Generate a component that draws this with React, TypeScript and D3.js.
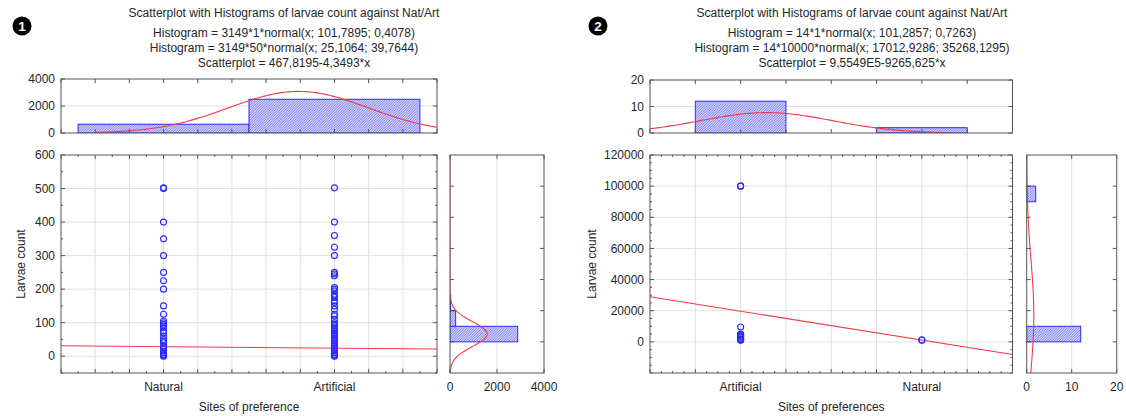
import React from "react";
import * as d3 from "d3";

// ---------------- Panel 1 data ----------------
const titles1 = [
  "Scatterplot with Histograms of larvae count against Nat/Art",
  "Histogram = 3149*1*normal(x; 101,7895; 0,4078)",
  "Histogram = 3149*50*normal(x; 25,1064; 39,7644)",
  "Scatterplot = 467,8195-4,3493*x",
];
const siteLabels1 = ["Natural", "Artificial"];
const siteCodes1 = [101, 102];
const siteCounts1 = [650, 2499];
const naturalLarvae1 = [502, 500, 400, 350, 300, 250, 225, 200, 150, 125, 105, 100, 95, 90, 85, 75, 70, 60, 50, 45, 40, 30, 25, 20, 15, 10, 5, 2, 0];
const artificialLarvae1 = [502, 400, 360, 325, 300, 250, 245, 240, 205, 200, 195, 185, 180, 175, 165, 160, 150, 140, 125, 120, 110, 100, 95, 90, 85, 80, 75, 70, 65, 60, 55, 50, 45, 40, 35, 30, 25, 20, 15, 10, 5, 2, 0];
const larvaeBinStarts1 = [0, 50, 100];
const larvaeBinCounts1 = [2880, 240, 29];
const xFit1 = { n: 3149, w: 1, mean: 101.7895, sd: 0.4078 };
const yFit1 = { n: 3149, w: 50, mean: 25.1064, sd: 39.7644 };
const reg1 = { a: 467.8195, b: -4.3493 };
const topTicks1 = [0, 2000, 4000];
const larvaeTicks1 = [0, 100, 200, 300, 400, 500, 600];
const freqTicks1 = [0, 2000, 4000];

// ---------------- Panel 2 data ----------------
const titles2 = [
  "Scatterplot with Histograms of larvae count against Nat/Art",
  "Histogram = 14*1*normal(x; 101,2857; 0,7263)",
  "Histogram = 14*10000*normal(x; 17012,9286; 35268,1295)",
  "Scatterplot = 9,5549E5-9265,625*x",
];
const siteLabels2 = ["Artificial", "Natural"];
const siteCodes2 = [101, 103];
const siteCounts2 = [12, 2];
const artificialLarvae2 = [100000, 100000, 9500, 5000, 4800, 4200, 3500, 3000, 2000, 1500, 1300, 1100];
const naturalLarvae2 = [1100, 1160];
const larvaeBinStarts2 = [0, 90000];
const larvaeBinCounts2 = [12, 2];
const xFit2 = { n: 14, w: 1, mean: 101.2857, sd: 0.7263 };
const yFit2 = { n: 14, w: 10000, mean: 17012.9286, sd: 35268.1295 };
const reg2 = { a: 955490, b: -9265.625 };
const topTicks2 = [0, 10, 20];
const larvaeTicks2 = [0, 20000, 40000, 60000, 80000, 100000, 120000];
const freqTicks2 = [0, 10, 20];

const FONT = "'Liberation Sans', Arial, Helvetica, sans-serif";
const BLUE = "#2a2aff";
const RED = "#f03a48";
const AXIS = "#555";
const GRID = "#e0e0e0";
const TXT = "#262626";

const pdf = (v: number, m: number, s: number) =>
  Math.exp(-0.5 * ((v - m) / s) ** 2) / (s * Math.sqrt(2 * Math.PI));

function range(a: number, b: number, step: number) {
  const n = Math.round((b - a) / step);
  return d3.range(n + 1).map((i) => a + i * step);
}

const panels = [
  {
    id: "p1",
    bullet: "1",
    bulletX: 22,
    titles: titles1,
    titleX: 284,
    L: { sx0: 61, sx1: 437, sy0: 155, sy1: 373, ty0: 79, ty1: 133, rx0: 450, rx1: 544 },
    yLabelX: 21,
    xLabel: "Sites of preference",
    xDomain: [100.4, 102.6],
    xMajor: range(100.4, 102.6, 0.2),
    xMinor: range(100.4, 102.6, 0.1),
    cats: siteLabels1.map((l, i) => ({ label: l, code: siteCodes1[i], count: siteCounts1[i] })),
    points: [
      ...naturalLarvae1.map((v) => ({ x: siteCodes1[0], y: v })),
      ...artificialLarvae1.map((v) => ({ x: siteCodes1[1], y: v })),
    ],
    topDomain: [0, 4000],
    topTicks: topTicks1,
    xFit: xFit1,
    xFitRange: [100.6, 102.6],
    yDomain: [-50, 600],
    yMajor: larvaeTicks1,
    yMinor: range(-50, 600, 50),
    reg: reg1,
    rhYDomain: [-100, 600],
    rhYTicks: [0, 100, 200, 300, 400, 500],
    rhBins: larvaeBinStarts1.map((s, i) => ({ y0: s, y1: s + yFit1.w, count: larvaeBinCounts1[i] })),
    rhXDomain: [0, 4000],
    rhXTicks: freqTicks1,
    yFit: yFit1,
  },
  {
    id: "p2",
    bullet: "2",
    bulletX: 598,
    titles: titles2,
    titleX: 852,
    L: { sx0: 650, sx1: 1012.5, sy0: 155, sy1: 373, ty0: 80, ty1: 133, rx0: 1026.7, rx1: 1116.7 },
    yLabelX: 592,
    xLabel: "Sites of preferences",
    xDomain: [100, 104],
    xMajor: range(100, 104, 0.5),
    xMinor: range(100, 104, 0.125),
    cats: siteLabels2.map((l, i) => ({ label: l, code: siteCodes2[i], count: siteCounts2[i] })),
    points: [
      ...artificialLarvae2.map((v) => ({ x: siteCodes2[0], y: v })),
      ...naturalLarvae2.map((v) => ({ x: siteCodes2[1], y: v })),
    ],
    topDomain: [0, 20],
    topTicks: topTicks2,
    xFit: xFit2,
    xFitRange: [100, 103.3],
    yDomain: [-20000, 120000],
    yMajor: larvaeTicks2,
    yMinor: range(-20000, 120000, 5000),
    reg: reg2,
    rhYDomain: [-20000, 120000],
    rhYTicks: [0, 20000, 40000, 60000, 80000, 100000],
    rhBins: larvaeBinStarts2.map((s, i) => ({ y0: s, y1: s + yFit2.w, count: larvaeBinCounts2[i] })),
    rhXDomain: [0, 20],
    rhXTicks: freqTicks2,
    yFit: yFit2,
  },
];

function Panel({ p }: { p: any }) {
  const L = p.L;
  const x = d3.scaleLinear().domain(p.xDomain).range([L.sx0, L.sx1]);
  const yT = d3.scaleLinear().domain(p.topDomain).range([L.ty1, L.ty0]);
  const y = d3.scaleLinear().domain(p.yDomain).range([L.sy1, L.sy0]);
  const yR = d3.scaleLinear().domain(p.rhYDomain).range([L.sy1, L.sy0]);
  const xR = d3.scaleLinear().domain(p.rhXDomain).range([L.rx0, L.rx1]);

  const topCurve = d3
    .line<number>()
    .x((v) => x(v))
    .y((v) => yT(p.xFit.n * p.xFit.w * pdf(v, p.xFit.mean, p.xFit.sd)))(
    d3.range(0, 201).map((i) => p.xFitRange[0] + (i * (p.xFitRange[1] - p.xFitRange[0])) / 200)
  );
  const rhCurve = d3
    .line<number>()
    .x((v) => xR(p.yFit.n * p.yFit.w * pdf(v, p.yFit.mean, p.yFit.sd)))
    .y((v) => yR(v))(
    d3.range(0, 301).map((i) => p.rhYDomain[0] + (i * (p.rhYDomain[1] - p.rhYDomain[0])) / 300)
  );
  const regLine = d3
    .line<number>()
    .x((v) => x(v))
    .y((v) => y(p.reg.a + p.reg.b * v))(p.xDomain);

  const clipT = `${p.id}-ct`;
  const clipS = `${p.id}-cs`;
  const clipR = `${p.id}-cr`;
  const inner = (v: number) => v > p.xDomain[0] + 1e-6 && v < p.xDomain[1] - 1e-6;

  const tickLines: JSX.Element[] = [];
  p.xMinor.forEach((v: number, i: number) => {
    const len = p.xMajor.some((m: number) => Math.abs(m - v) < 1e-6) ? 4 : 2;
    tickLines.push(<line key={`sb${i}`} x1={x(v)} x2={x(v)} y1={L.sy1} y2={L.sy1 - len} />);
    tickLines.push(<line key={`st${i}`} x1={x(v)} x2={x(v)} y1={L.sy0} y2={L.sy0 + len} />);
  });
  p.yMinor.forEach((v: number, i: number) => {
    const len = p.yMajor.includes(v) ? 4 : 2;
    tickLines.push(<line key={`sl${i}`} x1={L.sx0} x2={L.sx0 + len} y1={y(v)} y2={y(v)} />);
    tickLines.push(<line key={`sr${i}`} x1={L.sx1} x2={L.sx1 - len} y1={y(v)} y2={y(v)} />);
  });
  p.xMajor.forEach((v: number, i: number) => {
    tickLines.push(<line key={`tt${i}`} x1={x(v)} x2={x(v)} y1={L.ty0} y2={L.ty0 + 4} />);
    tickLines.push(<line key={`tb${i}`} x1={x(v)} x2={x(v)} y1={L.ty1} y2={L.ty1 - 4} />);
  });
  p.topTicks.forEach((v: number, i: number) => {
    tickLines.push(<line key={`tl${i}`} x1={L.sx0} x2={L.sx0 + 4} y1={yT(v)} y2={yT(v)} />);
    tickLines.push(<line key={`tr${i}`} x1={L.sx1} x2={L.sx1 - 4} y1={yT(v)} y2={yT(v)} />);
  });
  p.rhYTicks.forEach((v: number, i: number) => {
    tickLines.push(<line key={`rl${i}`} x1={L.rx0} x2={L.rx0 + 4} y1={yR(v)} y2={yR(v)} />);
    tickLines.push(<line key={`rr${i}`} x1={L.rx1} x2={L.rx1 - 4} y1={yR(v)} y2={yR(v)} />);
  });
  p.rhXTicks.forEach((v: number, i: number) => {
    tickLines.push(<line key={`rb${i}`} x1={xR(v)} x2={xR(v)} y1={L.sy1} y2={L.sy1 - 4} />);
    tickLines.push(<line key={`rt${i}`} x1={xR(v)} x2={xR(v)} y1={L.sy0} y2={L.sy0 + 4} />);
  });

  const binW = p.xFit.w;
  return (
    <g>
      <defs>
        <clipPath id={clipT}>
          <rect x={L.sx0} y={L.ty0} width={L.sx1 - L.sx0} height={L.ty1 - L.ty0} />
        </clipPath>
        <clipPath id={clipS}>
          <rect x={L.sx0} y={L.sy0} width={L.sx1 - L.sx0} height={L.sy1 - L.sy0} />
        </clipPath>
        <clipPath id={clipR}>
          <rect x={L.rx0} y={L.sy0} width={L.rx1 - L.rx0} height={L.sy1 - L.sy0} />
        </clipPath>
      </defs>

      <circle cx={p.bulletX} cy={26} r={9.5} fill="#000" />
      <text x={p.bulletX} y={26} dy="0.36em" textAnchor="middle" fill="#fff" fontSize={13.5} fontWeight="bold" fontFamily={FONT}>
        {p.bullet}
      </text>

      {p.titles.map((t: string, i: number) => (
        <text key={i} x={p.titleX} y={[17, 36.5, 52, 67][i]} textAnchor="middle" fontSize={12} fill={TXT} fontFamily={FONT}>
          {t}
        </text>
      ))}

      {/* top histogram */}
      <rect x={L.sx0} y={L.ty0} width={L.sx1 - L.sx0} height={L.ty1 - L.ty0} fill="#fff" />
      {p.topTicks
        .filter((v: number) => v > p.topDomain[0] && v < p.topDomain[1])
        .map((v: number) => (
          <line key={v} x1={L.sx0} x2={L.sx1} y1={yT(v)} y2={yT(v)} stroke={GRID} />
        ))}
      <g clipPath={`url(#${clipT})`}>
        {p.cats.map((c: any) => (
          <rect
            key={c.label}
            x={x(c.code - binW / 2)}
            y={yT(c.count)}
            width={x(c.code + binW / 2) - x(c.code - binW / 2)}
            height={yT(0) - yT(c.count)}
            fill="url(#hatch)"
            stroke={BLUE}
            strokeWidth={1}
          />
        ))}
        <path d={topCurve || ""} fill="none" stroke={RED} strokeWidth={1.1} />
      </g>
      <rect x={L.sx0} y={L.ty0} width={L.sx1 - L.sx0} height={L.ty1 - L.ty0} fill="none" stroke={AXIS} />
      {p.topTicks.map((v: number) => (
        <text key={v} x={L.sx0 - 6} y={yT(v)} dy="0.35em" textAnchor="end" fontSize={12} fill={TXT} fontFamily={FONT}>
          {v}
        </text>
      ))}

      {/* scatter */}
      <rect x={L.sx0} y={L.sy0} width={L.sx1 - L.sx0} height={L.sy1 - L.sy0} fill="#fff" />
      {p.xMajor.filter(inner).map((v: number, i: number) => (
        <line key={`gx${i}`} x1={x(v)} x2={x(v)} y1={L.sy0} y2={L.sy1} stroke={GRID} />
      ))}
      {p.yMajor
        .filter((v: number) => v < p.yDomain[1])
        .map((v: number) => (
          <line key={`gy${v}`} x1={L.sx0} x2={L.sx1} y1={y(v)} y2={y(v)} stroke={GRID} />
        ))}
      <g clipPath={`url(#${clipS})`}>
        <path d={regLine || ""} fill="none" stroke={RED} strokeWidth={1.1} />
        {p.points.map((d: any, i: number) => (
          <circle key={i} cx={x(d.x)} cy={y(d.y)} r={3} fill="none" stroke={BLUE} strokeWidth={1.1} />
        ))}
      </g>
      <rect x={L.sx0} y={L.sy0} width={L.sx1 - L.sx0} height={L.sy1 - L.sy0} fill="none" stroke={AXIS} />
      {p.yMajor.map((v: number) => (
        <text key={v} x={L.sx0 - 6} y={y(v)} dy="0.35em" textAnchor="end" fontSize={12} fill={TXT} fontFamily={FONT}>
          {v}
        </text>
      ))}
      {p.cats.map((c: any) => (
        <text key={c.label} x={x(c.code)} y={387} dy="0.35em" textAnchor="middle" fontSize={12} fill={TXT} fontFamily={FONT}>
          {c.label}
        </text>
      ))}
      <text x={(L.sx0 + L.sx1) / 2} y={407} dy="0.35em" textAnchor="middle" fontSize={12} fill={TXT} fontFamily={FONT}>
        {p.xLabel}
      </text>
      <text
        transform={`translate(${p.yLabelX},${(L.sy0 + L.sy1) / 2}) rotate(-90)`}
        dy="0.35em"
        textAnchor="middle"
        fontSize={12}
        fill={TXT}
        fontFamily={FONT}
      >
        Larvae count
      </text>

      {/* right histogram */}
      <rect x={L.rx0} y={L.sy0} width={L.rx1 - L.rx0} height={L.sy1 - L.sy0} fill="#fff" />
      {p.rhXTicks
        .filter((v: number) => v > p.rhXDomain[0] && v < p.rhXDomain[1])
        .map((v: number) => (
          <line key={v} x1={xR(v)} x2={xR(v)} y1={L.sy0} y2={L.sy1} stroke={GRID} />
        ))}
      <g clipPath={`url(#${clipR})`}>
        {p.rhBins.map((b: any, i: number) => (
          <rect
            key={i}
            x={xR(0)}
            y={yR(b.y1)}
            width={Math.max(0.01, xR(b.count) - xR(0))}
            height={yR(b.y0) - yR(b.y1)}
            fill="url(#hatch)"
            stroke={BLUE}
            strokeWidth={1}
          />
        ))}
        <path d={rhCurve || ""} fill="none" stroke={RED} strokeWidth={1.1} />
      </g>
      <rect x={L.rx0} y={L.sy0} width={L.rx1 - L.rx0} height={L.sy1 - L.sy0} fill="none" stroke={AXIS} />
      {p.rhXTicks.map((v: number) => (
        <text key={v} x={xR(v)} y={387} dy="0.35em" textAnchor="middle" fontSize={12} fill={TXT} fontFamily={FONT}>
          {v}
        </text>
      ))}

      <g stroke={AXIS} strokeWidth={1}>{tickLines}</g>
    </g>
  );
}

export default function App() {
  return (
    <svg
      width={1126}
      height={416}
      viewBox="0 0 1126 416"
      style={{ position: "absolute", left: 0, top: 0, background: "#fff" }}
    >
      <defs>
        <pattern id="hatch" patternUnits="userSpaceOnUse" width={2.5} height={2.5}>
          <rect width={2.5} height={2.5} fill="#dcdcfa" />
          <path d="M-1,1 l2,-2 M0,2.5 l2.5,-2.5 M1.5,3.5 l2,-2" stroke="#5a5aff" strokeWidth={0.8} />
        </pattern>
      </defs>
      <rect width={1126} height={416} fill="#fff" />
      {panels.map((p) => (
        <Panel key={p.id} p={p} />
      ))}
    </svg>
  );
}
